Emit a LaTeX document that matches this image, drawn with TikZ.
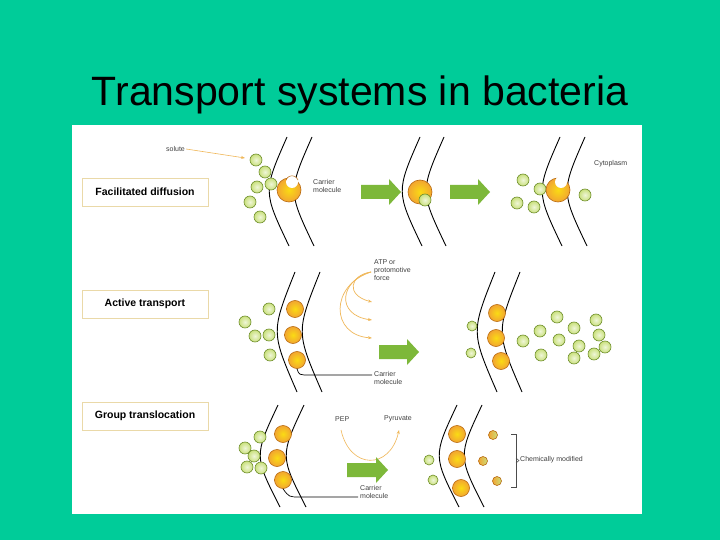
\documentclass[tikz,border=0pt]{standalone}
\usepackage{fontspec}
\setmainfont{Liberation Sans}
\usetikzlibrary{arrows.meta,decorations.pathreplacing}
\definecolor{bg}{HTML}{00CC99}
\definecolor{gfill}{HTML}{C9E07C}
\definecolor{gdark}{HTML}{6E8E2A}
\definecolor{ofill}{HTML}{F2A531}
\definecolor{odark}{HTML}{B86A10}
\definecolor{garrow}{HTML}{7DB83A}
\definecolor{tan}{HTML}{EAD9A8}
\definecolor{yarr}{HTML}{F0B85A}
\begin{document}
\begin{tikzpicture}[x=1pt,y=-1pt,
 gr/.style={circle,draw=gdark,line width=0.6pt,inner color=white!70!gfill,outer color=gfill,minimum size=12pt,inner sep=0pt},
 grs/.style={gr,minimum size=10pt},
 orc/.style={circle,draw=odark,line width=0.6pt,inner color=ofill!40!yellow,outer color=ofill,minimum size=17pt,inner sep=0pt},
 big/.style={orc,minimum size=24pt},
 mem/.style={line width=0.9pt,black},
 lab/.style={draw=tan,line width=0.8pt,fill=white,minimum width=126pt,minimum height=28pt,font=\bfseries\fontsize{10.5}{12}\selectfont},
 sm/.style={font=\fontsize{7}{8}\selectfont,text=black!75,align=left,anchor=west,inner sep=1pt},
 fat/.style={fill=garrow,draw=none},
 yel/.style={draw=yarr,line width=0.7pt,-{Stealth[length=4pt]}}]
\fill[bg] (0,0) rectangle (720,540);
\fill[white] (72,125) rectangle (642,514);
\node[font=\fontsize{41}{48}\selectfont] (title) at (360,95) {Transport systems in bacteria};
% labels
\node[lab] (l1) at (145,192) {Facilitated diffusion};
\node[lab] (l2) at (145,304) {Active transport};
\node[lab] (l3) at (145,416) {Group translocation};
% membrane macro
\newcommand\memb[4]{\draw[mem] (#1+12,#2) .. controls (#1-12,{(#2+#3)/2}) .. (#1+14,#3);
 \draw[mem] (#4+12,#2) .. controls (#4-12,{(#2+#3)/2}) .. (#4+14,#3);}
\newcommand\fatarrow[3]{\fill[fat] (#1,#3-7) -- (#2-12,#3-7) -- (#2-12,#3-13) -- (#2,#3) -- (#2-12,#3+13) -- (#2-12,#3+7) -- (#1,#3+7) -- cycle;}
% ROW 1
\memb{275}{137}{246}{300}
\memb{408}{137}{246}{432}
\memb{548}{137}{246}{573}
\foreach \p in {(256,160),(265,172),(257,187),(271,184),(250,202),(260,217)} \node[gr] at \p {};
\node[big] (c1) at (289,190) {};
\fill[white] (292,182) circle (6pt);
\draw[odark,line width=0.5pt] (286,180) arc (200:340:6.4);
\node[sm] (cm1) at (312,186) {Carrier\\molecule};
\node[sm] (sol) at (165,149) {solute};
\draw[yarr,line width=0.6pt,-{Stealth[length=4pt]}] (sol.east) -- (245,158);
\fatarrow{361}{401}{192}
\node[big] (c2) at (420,192) {};
\node[gr] at (425,200) {};
\fatarrow{450}{490}{192}
\foreach \p in {(523,180),(540,189),(517,203),(534,207),(585,195)} \node[gr] at \p {};
\node[big] (c3) at (558,190) {};
\fill[white] (561,182) circle (6pt);
\node[sm] (cyto) at (593,164) {Cytoplasm};
% ROW 2
\memb{283}{272}{392}{308}
\memb{483}{272}{392}{508}
\foreach \p in {(269,309),(245,322),(255,336),(269,335),(270,355)} \node[gr] at \p {};
\node[orc] (o1) at (295,309) {};
\node[orc] (o2) at (293,335) {};
\node[orc] (o3) at (297,360) {};
\node[sm] (atp) at (373,270) {ATP or\\protomotive\\force};
\draw[yel] (371,272) .. controls (350,275) and (345,295) .. (372,302);
\draw[yel] (371,272) .. controls (340,280) and (335,315) .. (372,320);
\draw[yel] (371,272) .. controls (330,285) and (330,335) .. (372,338);
\fatarrow{379}{419}{352}
\draw[line width=0.7pt] (o3.south) .. controls (299,375) .. (310,375) -- (372,375);
\node[sm] (cm2) at (373,378) {Carrier\\molecule};
\foreach \p in {(472,326),(471,353)} \node[grs] at \p {};
\node[orc] (o4) at (497,313) {};
\node[orc] (o5) at (496,338) {};
\node[orc] (o6) at (501,361) {};
\foreach \p in {(523,341),(540,331),(541,355),(557,317),(574,328),(559,340),(579,346),(574,358),(596,320),(599,335),(594,354),(605,347)} \node[gr] at \p {};
% ROW 3
\memb{266}{405}{507}{292}
\memb{445}{405}{507}{470}
\foreach \p in {(260,437),(245,448),(254,456),(247,467),(261,468)} \node[gr] at \p {};
\node[orc] (p1) at (283,434) {};
\node[orc] (p2) at (277,458) {};
\node[orc] (p3) at (283,480) {};
\node[sm] (pep) at (334,419) {PEP};
\node[sm] (pyr) at (383,419) {Pyruvate};
\draw[yel,line width=0.6pt] (341,430) .. controls (350,470) and (390,470) .. (399,430);
\fatarrow{347}{388}{470}
\draw[line width=0.7pt] (p3.south) .. controls (289,497) .. (300,497) -- (358,497);
\node[sm] (cm3) at (359,492) {Carrier\\molecule};
\foreach \p in {(429,460),(433,480)} \node[grs] at \p {};
\node[orc] (p4) at (457,434) {};
\node[orc] (p5) at (457,459) {};
\node[orc] (p6) at (461,488) {};
\foreach \p/\n in {(493,435)/m1,(483,461)/m2,(497,481)/m3}{
 \node[circle,draw=odark,line width=0.6pt,minimum size=9pt,inner sep=0pt,left color=ofill,right color=gfill] (\n) at \p {};}
\draw[line width=0.5pt,black!70] (511,434) -- (516,434) -- (516,487) -- (511,487);
\draw[line width=0.5pt,black!70] (516,458) -- (519,460.5) -- (516,463);
\node[sm] (chem) at (519,460) {Chemically modified};
\end{tikzpicture}
\end{document}
